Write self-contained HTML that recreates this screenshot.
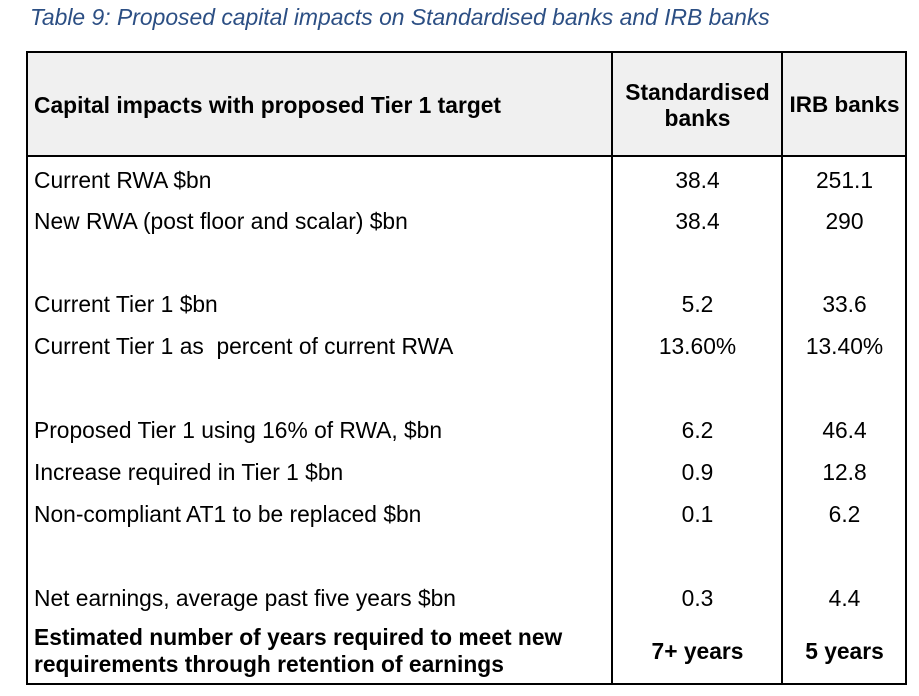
<!DOCTYPE html>
<html><head><style>
html,body{margin:0;padding:0;background:#fff;width:919px;height:696px;overflow:hidden}
body{font-family:"Liberation Sans",Arial,sans-serif;position:relative;color:#000}
.t{position:absolute;left:30px;top:4px;font-style:italic;font-size:22.9px;color:#2c4f84;white-space:nowrap}
.box{position:absolute;left:26px;top:51px;width:881px;height:634px;border:2px solid #000;box-sizing:border-box}
.hd{position:absolute;left:28px;top:53px;width:877px;height:102px;background:#f0f0f0}
.hl{position:absolute;left:26px;top:155px;width:881px;height:2px;background:#000}
.v{position:absolute;top:51px;width:2px;height:634px;background:#000}
.s{position:absolute;font-size:22.8px;white-space:nowrap;line-height:26px}
.c1{position:absolute;left:613px;width:169px;text-align:center;font-size:22.8px;line-height:26px}
.c2{position:absolute;left:783px;width:123px;text-align:center;font-size:22.8px;line-height:26px}
b{font-weight:bold}
</style></head><body>
<div class="t">Table 9: Proposed capital impacts on Standardised banks and IRB banks</div>
<div class="hd"></div>
<div class="box"></div>
<div class="hl"></div>
<div class="v" style="left:611px"></div>
<div class="v" style="left:781px"></div>
<div class="s" style="left:34px;top:92px"><b>Capital impacts with proposed Tier 1 target</b></div>
<div class="c1" style="top:79px;line-height:26px"><b>Standardised<br>banks</b></div>
<div class="c2" style="top:92px;font-size:22.5px"><b>IRB banks</b></div>

<div class="s" style="left:34px;top:167px">Current RWA $bn</div><div class="c1" style="top:167px">38.4</div><div class="c2" style="top:167px">251.1</div>
<div class="s" style="left:34px;top:208px">New RWA (post floor and scalar) $bn</div><div class="c1" style="top:208px">38.4</div><div class="c2" style="top:208px">290</div>
<div class="s" style="left:34px;top:291px">Current Tier 1 $bn</div><div class="c1" style="top:291px">5.2</div><div class="c2" style="top:291px">33.6</div>
<div class="s" style="left:34px;top:333px">Current Tier 1 as&nbsp; percent of current RWA</div><div class="c1" style="top:333px">13.60%</div><div class="c2" style="top:333px">13.40%</div>
<div class="s" style="left:34px;top:417px">Proposed Tier 1 using 16% of RWA, $bn</div><div class="c1" style="top:417px">6.2</div><div class="c2" style="top:417px">46.4</div>
<div class="s" style="left:34px;top:459px">Increase required in Tier 1 $bn</div><div class="c1" style="top:459px">0.9</div><div class="c2" style="top:459px">12.8</div>
<div class="s" style="left:34px;top:501px">Non-compliant AT1 to be replaced $bn</div><div class="c1" style="top:501px">0.1</div><div class="c2" style="top:501px">6.2</div>
<div class="s" style="left:34px;top:585px">Net earnings, average past five years $bn</div><div class="c1" style="top:585px">0.3</div><div class="c2" style="top:585px">4.4</div>
<div class="s" style="left:34px;top:624px;line-height:27px"><b>Estimated number of years required to meet new<br>requirements through retention of earnings</b></div>
<div class="c1" style="top:638px"><b>7+ years</b></div><div class="c2" style="top:638px"><b>5 years</b></div>
</body></html>
